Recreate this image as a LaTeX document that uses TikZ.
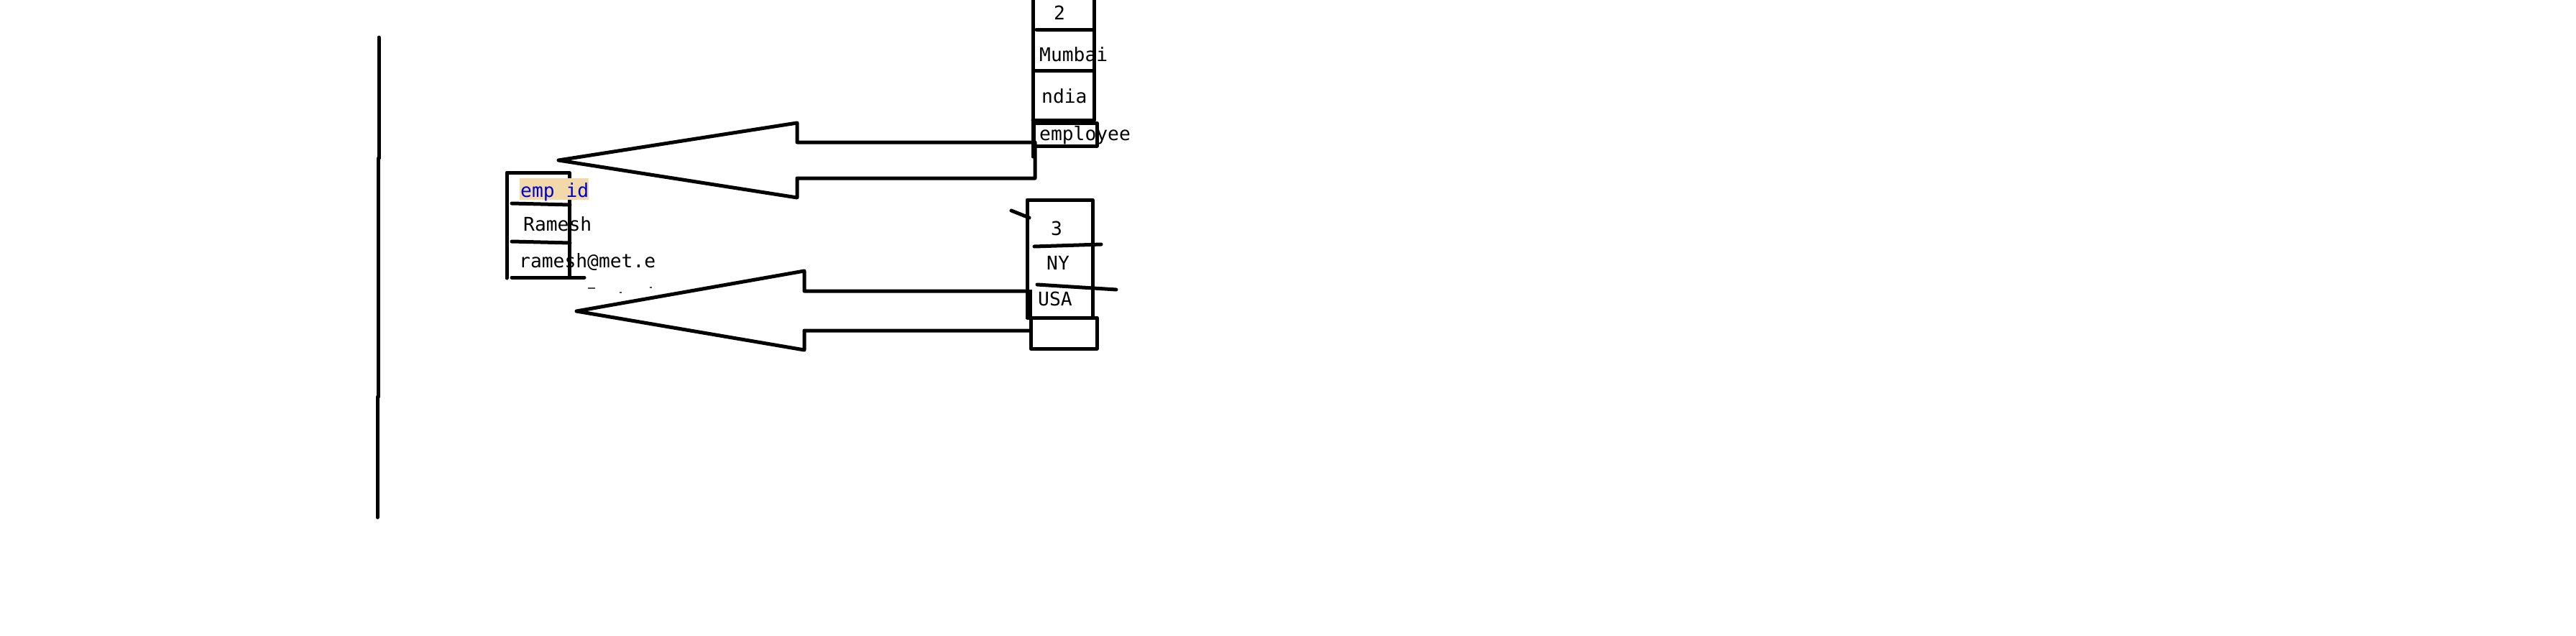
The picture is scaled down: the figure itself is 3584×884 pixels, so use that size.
\documentclass[tikz,border=0pt]{standalone}
\usepackage{fontspec}
\setmonofont{DejaVu Sans Mono}
\definecolor{hl}{RGB}{242,217,169}
\definecolor{txtblue}{RGB}{0,0,205}
\begin{document}
\begin{tikzpicture}[x=1pt,y=-1pt,
  ln/.style={line width=5pt,line cap=round,line join=round},
  lbl/.style={anchor=base west,inner sep=0pt,font=\ttfamily\fontsize{26.3}{30}\selectfont},
  spot/.style={line width=2pt,draw=black!70}]
\useasboundingbox[fill=white] (0,0) rectangle (3584,884);
% vertical line
\draw[ln] (527,52) -- (527,220) -- (526,220) -- (526,552) -- (525,552) -- (525,720);
% left box
\draw[ln] (705,387) -- (705,240) -- (792,240) -- (792,386);
\draw[ln] (712,283) -- (793,285);
\draw[ln] (712,336) -- (793,338);
\draw[ln] (712,386) -- (813,386);
\fill[hl] (723,248) rectangle (819,278);
\node[lbl,text=txtblue] (empid) at (724,274) {emp id};
\node[lbl] (ramesh) at (728,321) {Ramesh};
\node[lbl] (mail) at (722,372) {ramesh@met.e};
\draw[spot] (818,401) -- (828,401);
\draw[spot] (862,407) -- (865,407);
\draw[spot] (904,400) -- (907,400);
% upper right box
\draw[ln] (1437,-10) -- (1437,218);
\draw[ln] (1522,-10) -- (1522,167) -- (1437,167);
\draw[ln] (1442,41) -- (1522,41);
\draw[ln] (1441,98) -- (1522,98);
\draw[ln] (1438,171) rectangle (1526,203);
\node[lbl] (n2) at (1466,27) {2};
\node[lbl] (mumbai) at (1446,85) {Mumbai};
\node[lbl] (ndia) at (1449,143) {ndia};
\node[lbl] (employee) at (1446,195) {employee};
% upper arrow
\coordinate (ua1) at (777,223);
\draw[ln] (1440,198) -- (1109,198) -- (1109,171) -- (ua1) -- (1109,275) -- (1109,248) -- (1440,248) -- (1440,198);
% lower right box
\draw[ln] (1429,278) rectangle (1520,442);
\draw[ln] (1434,442) rectangle (1526,485);
\draw[ln] (1439,343) -- (1532,340);
\draw[ln] (1443,396) -- (1553,403);
\draw[ln] (1407,293) -- (1432,303);
\fill (1427,403) rectangle (1436,444);
\node[lbl] (n3) at (1462,327) {3};
\node[lbl] (ny) at (1456,375) {NY};
\node[lbl] (usa) at (1444,425) {USA};
% lower arrow
\coordinate (la1) at (802,433);
\draw[ln] (1429,405) -- (1119,405) -- (1119,377) -- (la1) -- (1119,487) -- (1119,460) -- (1434,460);
\end{tikzpicture}
\end{document}
